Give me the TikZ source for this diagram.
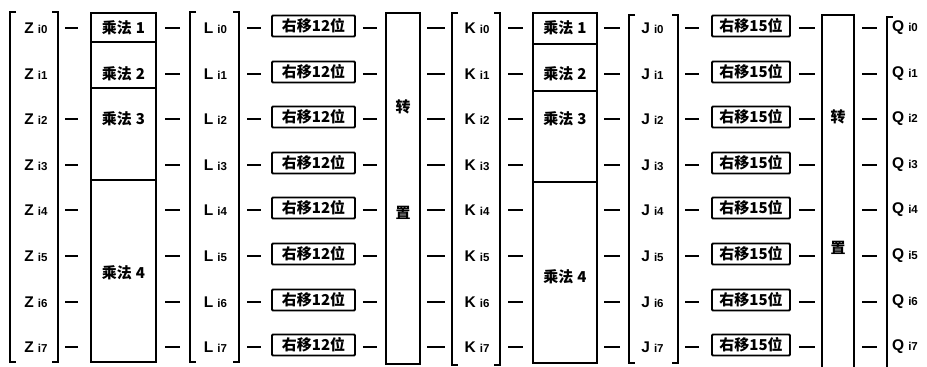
\documentclass[tikz,border=0pt]{standalone}
\usepackage{fontspec}
\setmainfont{Liberation Sans}
\newfontfamily\cjk{Noto Sans CJK SC}
\usetikzlibrary{calc}

\newcommand\vlab[2]{{\fontsize{15.5}{15.5}\selectfont\bfseries #1}\hspace{4pt}{\fontsize{11.5}{11.5}\selectfont\bfseries #2}}
\newcommand\bothbr[1]{%
  \draw[br] ([xshift=6pt]#1.north west) -- (#1.north west) -- (#1.south west) -- ([xshift=6pt]#1.south west);
  \draw[br] ([xshift=-6pt]#1.north east) -- (#1.north east) -- (#1.south east) -- ([xshift=-6pt]#1.south east);}

\tikzset{
  box/.style={draw, line width=1.6pt, inner sep=0pt, outer sep=0pt},
  sbox/.style={draw, line width=1.8pt, rounded corners=1pt, minimum height=21pt, inner sep=0pt,
               font=\cjk\bfseries\fontsize{15}{15}\selectfont},
  col/.style={inner sep=0pt, outer sep=0pt},
  br/.style={line width=1.8pt},
  dl/.style={line width=2pt},
  cj/.style={font=\cjk\bfseries\fontsize{15}{15}\selectfont, inner sep=0pt},
  vl/.style={inner sep=0pt},
}

\begin{document}
\begin{tikzpicture}[x=1pt,y=-1pt]
\useasboundingbox (0,0) rectangle (927,367);
\fill[white] (0,0) rectangle (927,367);

% row reference coordinates
\foreach \k/\yy in {0/28,1/74,2/119,3/165,4/210,5/256,6/302,7/347}{\coordinate (r\k) at (0,\yy);}

% ---- Z column
\node[col, minimum width=48pt, minimum height=350pt] (zb) at (34,187) {};
\bothbr{zb}
\foreach \k in {0,...,7}{\node[vl] (z\k) at ($(zb.center |- r\k)+(2,0)$) {\vlab{Z}{i\k}};}

% ---- multiplier box 1
\node[box, minimum width=65pt, minimum height=349pt] (ma) at (123.5,187.5) {};
\foreach \yy in {42,88,180}{\draw[line width=1.6pt] (ma.west |- 0,\yy) -- (ma.east |- 0,\yy);}
\node[cj] (ma1) at (ma.center |- r0) {乘法\hspace{4pt}1};
\node[cj] (ma2) at (ma.center |- r1) {乘法\hspace{4pt}2};
\node[cj] (ma3) at (ma.center |- r2) {乘法\hspace{4pt}3};
\node[cj] (ma4) at (123.5,273) {乘法\hspace{4pt}4};

% ---- L column
\node[col, minimum width=49pt, minimum height=350pt] (lb) at (214.5,187) {};
\bothbr{lb}
\foreach \k in {0,...,7}{\node[vl] (l\k) at ($(lb.center |- r\k)+(1,0)$) {\vlab{L}{i\k}};}

% ---- shift 12 boxes
\foreach \k in {0,...,7}{\node[sbox, minimum width=83pt] (sa\k) at ($(313.5,-2)+(r\k)$) {右移12位};}

% ---- transpose 1
\node[box, minimum width=34pt, minimum height=351pt] (ta) at (403,188.5) {};
\node[cj] (ta1) at (403,107) {转};
\node[cj] (ta2) at (403,213) {置};

% ---- K column
\node[col, minimum width=48pt, minimum height=352pt] (kb) at (476,189) {};
\bothbr{kb}
\foreach \k in {0,...,7}{\node[vl] (k\k) at ($(kb.center |- r\k)+(1,0)$) {\vlab{K}{i\k}};}

% ---- multiplier box 2
\node[box, minimum width=64pt, minimum height=350pt] (mb) at (565,188) {};
\foreach \yy in {44,91,182}{\draw[line width=1.6pt] (mb.west |- 0,\yy) -- (mb.east |- 0,\yy);}
\node[cj] (mb1) at (mb.center |- r0) {乘法\hspace{4pt}1};
\node[cj] (mb2) at (mb.center |- r1) {乘法\hspace{4pt}2};
\node[cj] (mb3) at (mb.center |- r2) {乘法\hspace{4pt}3};
\node[cj] (mb4) at (565,277) {乘法\hspace{4pt}4};

% ---- J column
\node[col, minimum width=49pt, minimum height=348pt] (jb) at (653.5,189) {};
\bothbr{jb}
\foreach \k in {0,...,7}{\node[vl] (j\k) at ($(jb.center |- r\k)+(-1,0)$) {\vlab{J}{i\k}};}

% ---- shift 15 boxes
\foreach \k in {0,...,7}{\node[sbox, minimum width=78pt] (sb\k) at ($(751,-2)+(r\k)$) {右移15位};}

% ---- transpose 2 (open at the bottom edge)
\node[col, minimum width=32pt, minimum height=354pt] (tb) at (838,192) {};
\draw[line width=1.6pt] (tb.south west) -- (tb.north west) -- (tb.north east) -- (tb.south east);
\node[cj] (tb1) at (838,117) {转};
\node[cj] (tb2) at (838,248) {置};

% ---- Q column (left bracket only)
\node[col, minimum width=40pt, minimum height=352pt] (qb) at (907,193) {};
\draw[br] ([xshift=6pt]qb.north west) -- (qb.north west) -- (qb.south west);
\foreach \k in {0,...,7}{\node[vl, anchor=west] (q\k) at (qb.west |- r\k) {\hspace{5pt}\vlab{Q}{i\k}};}

% ---- connecting dashes
\foreach \k in {0,...,7}{
  \ifnum\k=1\else\draw[dl] ([xshift=7pt]zb.east |- r\k) -- ([xshift=-13pt]ma.west |- r\k);\fi
  \draw[dl] ([xshift=9pt]ma.east |- r\k) -- ([xshift=-10pt]lb.west |- r\k);
  \draw[dl] ([xshift=8pt]lb.east |- r\k) -- ([xshift=-10pt]sa\k.west |- r\k);
  \draw[dl] ([xshift=7pt]sa\k.east |- r\k) -- ([xshift=-9pt]ta.west |- r\k);
  \draw[dl] ([xshift=7pt]ta.east |- r\k) -- ([xshift=-7pt]kb.west |- r\k);
  \draw[dl] ([xshift=8pt]kb.east |- r\k) -- ([xshift=-10pt]mb.west |- r\k);
  \draw[dl] ([xshift=7pt]mb.east |- r\k) -- ([xshift=-9pt]jb.west |- r\k);
  \draw[dl] ([xshift=7pt]jb.east |- r\k) -- ([xshift=-12pt]sb\k.west |- r\k);
  \draw[dl] ([xshift=8pt]sb\k.east |- r\k) -- ([xshift=-7pt]tb.west |- r\k);
  \draw[dl] ([xshift=8pt]tb.east |- r\k) -- ([xshift=-10pt]qb.west |- r\k);
}
\end{tikzpicture}
\end{document}
